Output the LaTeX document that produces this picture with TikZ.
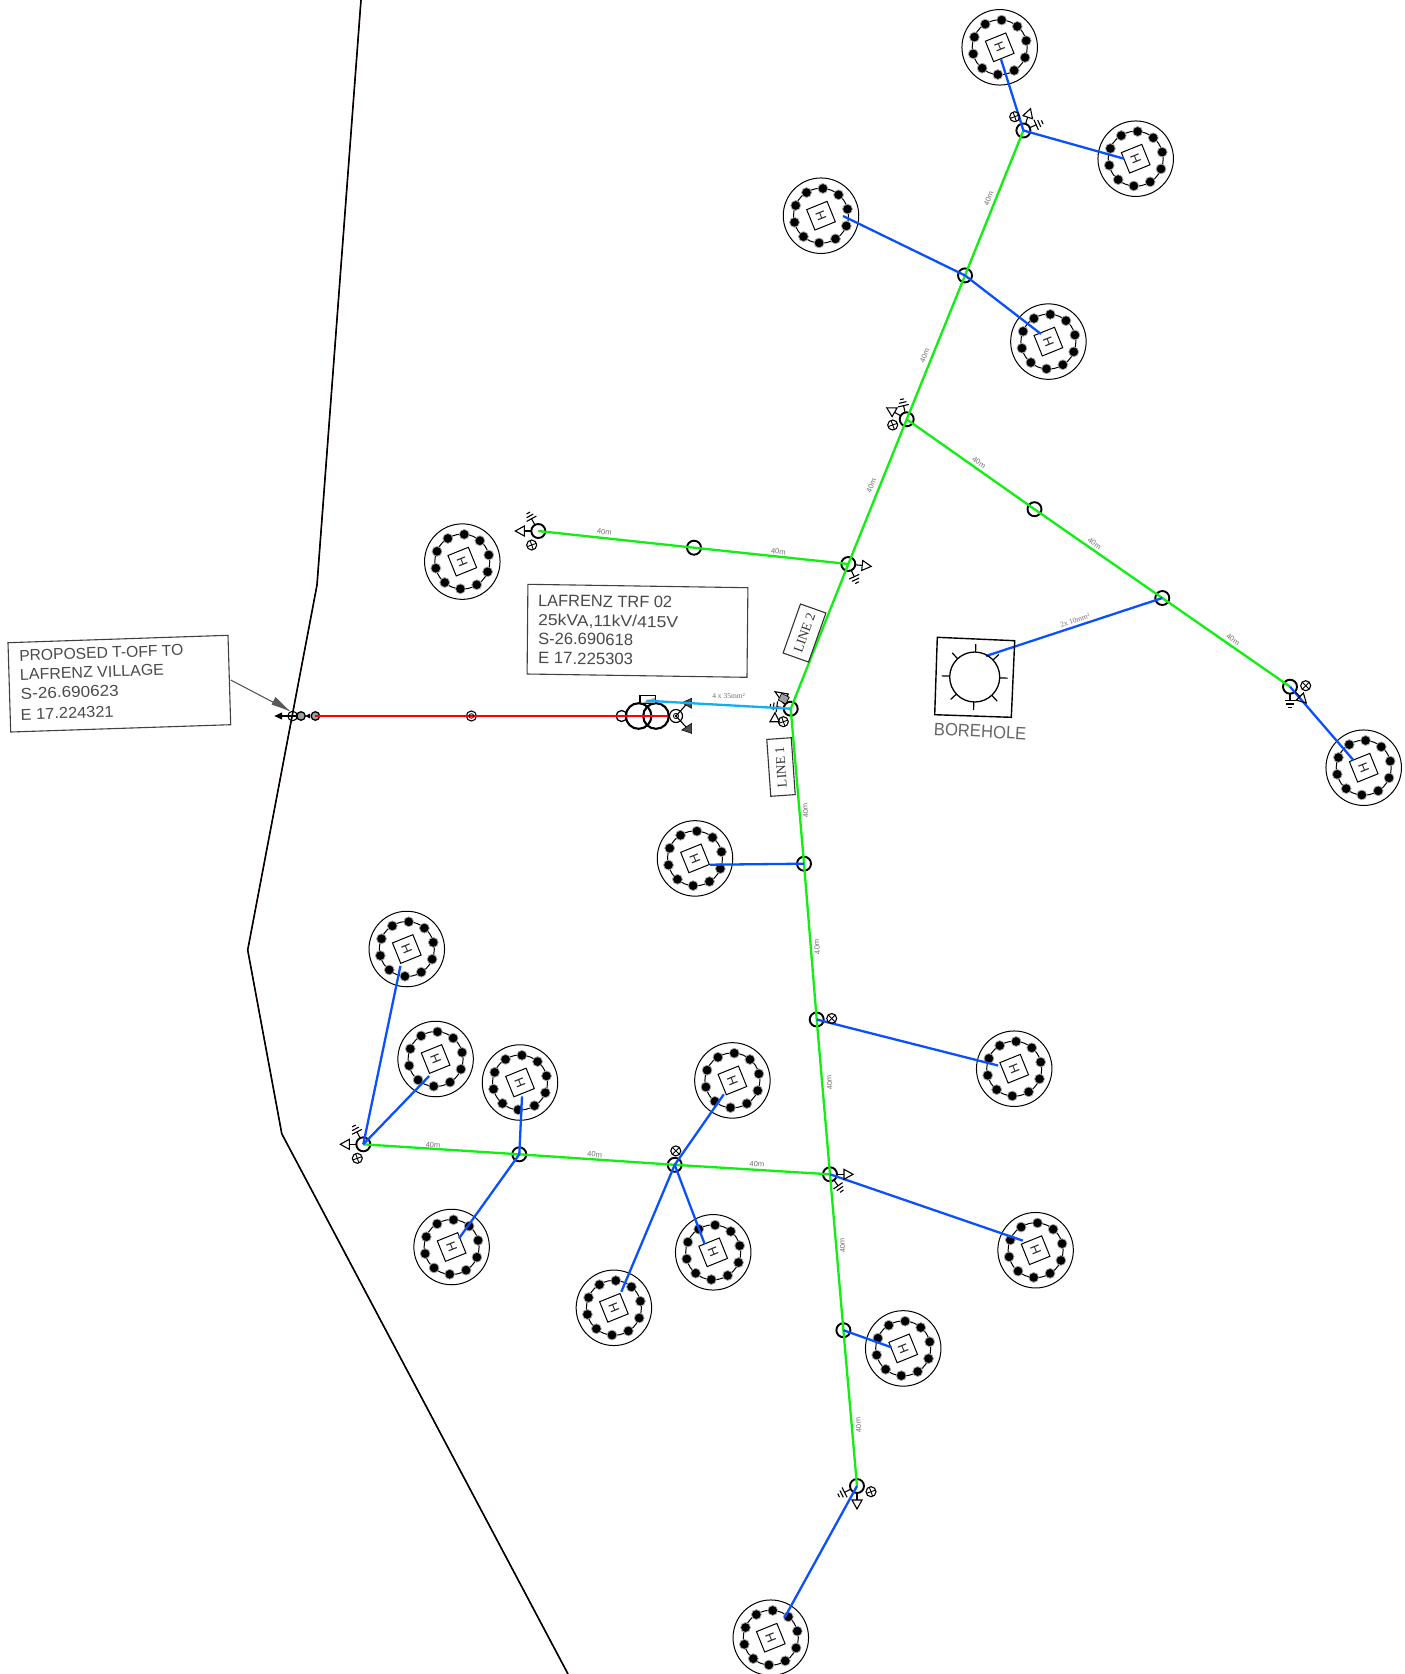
\documentclass[tikz,border=0pt]{standalone}
\usepackage{graphicx}
\usepackage{fontspec}
\setmainfont{Liberation Sans}
\newfontfamily\serifcad{Liberation Serif}
\usetikzlibrary{calc}
\definecolor{mvgreen}{HTML}{10F010}
\definecolor{lvblue}{HTML}{0A50FF}
\definecolor{svcyan}{HTML}{10B0F0}
\definecolor{cadtext}{HTML}{4A4A4A}
\definecolor{labgray}{HTML}{707070}
\tikzset{
 pole/.style={circle,draw=black,line width=1.9pt,minimum size=14pt,inner sep=0pt,outer sep=0pt},
 lampc/.style={circle,draw=black,line width=1.1pt,minimum size=10pt,inner sep=0pt,outer sep=0pt},
 hout/.style={circle,draw=black,line width=1pt,minimum size=75.5pt,inner sep=0pt,outer sep=0pt},
 hin/.style={circle,draw=black,line width=1pt,minimum size=55pt,inner sep=0pt,outer sep=0pt},
 hsq/.style={rectangle,draw=black,line width=1pt,minimum size=22pt,inner sep=0pt,outer sep=0pt},
 htx/.style={font=\fontsize{13}{13}\selectfont,inner sep=0pt,text=black!85},
 mv/.style={draw=mvgreen,line width=2.3pt},
 lv/.style={draw=lvblue,line width=2.3pt},
 hv/.style={draw=red,line width=2.3pt},
 sv/.style={draw=svcyan,line width=2.3pt},
 lab/.style={font=\fontsize{7.5}{7.5}\selectfont,text=labgray,inner sep=0pt},
 cad/.style={anchor=base west,inner sep=0pt,text=cadtext},
 boxline/.style={draw=black!75,line width=1.1pt},
 sym/.style={draw=black,line width=1.1pt},
}
\newcommand\house[3]{%
 \node[hout] (#1) at (#2,#3) {};
 \node[hin] (#1r) at (#2,#3) {};
 \begin{scope}[shift={(#1.center)}]
  \foreach \a in {14,50,...,338} \filldraw[fill=black,draw=gray!70,line width=.8pt] (\a:27.3pt) circle[radius=4.9pt];
 \end{scope}
 \node[hsq,rotate=22] (#1s) at (#2,#3) {};
 \node[htx,rotate=112] (#1h) at (#2,#3) {H};
}
\newcommand\stayS[2]{%
 \begin{scope}[shift={(#1.center)},rotate=#2]
  \draw[sym] (7pt,0pt) -- (14pt,0pt);
  \draw[sym] (14pt,-5pt) -- (14pt,5pt) -- (23pt,0pt) -- cycle;
 \end{scope}}
\newcommand\earthS[2]{%
 \begin{scope}[shift={(#1.center)},rotate=#2]
  \draw[sym] (7pt,0pt) -- (14pt,0pt);
  \draw[sym] (14pt,-5.5pt) -- (14pt,5.5pt);
  \draw[sym] (17.3pt,-3.8pt) -- (17.3pt,3.8pt);
  \draw[sym] (20.6pt,-2pt) -- (20.6pt,2pt);
 \end{scope}}
\newcommand\lampS[4]{%
 \node[lampc] (#1) at (#2,#3) {};
 \draw[black,line width=.9pt] (#1.#4) -- (#1.{#4+180});
 \draw[black,line width=.9pt] (#1.{#4+90}) -- (#1.{#4+270});}
\newcommand\forty[4]{\node[lab,rotate=#4] (#1) at (#2,#3) {40m};}
\begin{document}
\begin{tikzpicture}[x=1pt,y=-1pt]
\useasboundingbox[fill=white] (0,0) rectangle (1405,1674);
% boundary
\coordinate (b1) at (361,0);
\coordinate (b2) at (317,585);
\coordinate (b3) at (247.7,950);
\coordinate (b4) at (281.8,1133.8);
\coordinate (b5) at (568,1674);
\draw[red!80!black,line width=.9pt,xshift=.8pt] (b1) -- (b2) -- (b3) -- (b4) -- (b5);
\draw[black,line width=1.6pt] (b1) -- (b2) -- (b3) -- (b4) -- (b5);
% houses
\house{h1}{999.7}{47.3}
\house{h2}{1135.7}{158.7}
\house{h3}{821}{215.7}
\house{h4}{1048.4}{341.6}
\house{h5}{462.3}{561.6}
\house{h6}{1363.7}{767.7}
\house{h7}{695}{858.4}
\house{h8}{406.8}{949}
\house{h9}{435.6}{1059}
\house{h10}{520}{1082.5}
\house{h11}{732.4}{1080.4}
\house{h12}{1014.2}{1068.7}
\house{h13}{451.6}{1247}
\house{h14}{713.2}{1252.3}
\house{h15}{613.9}{1307.8}
\house{h16}{1035.6}{1250.2}
\house{h17}{903.2}{1348.4}
\house{h18}{770.8}{1637.7}
% poles
\node[pole] (a0) at (790.7,708.7) {};
\node[pole] (a1) at (848.3,564) {};
\node[pole] (a2) at (906.7,419.3) {};
\node[pole] (a3) at (965,275.4) {};
\node[pole] (a4) at (1023.4,130.5) {};
\node[pole] (n1) at (694,547.7) {};
\node[pole] (n2) at (538.3,531) {};
\node[pole] (e1) at (1034.5,509.2) {};
\node[pole] (e2) at (1162.3,598) {};
\node[pole] (e3) at (1290,686.7) {};
\node[pole] (s1) at (804,863.7) {};
\node[pole] (s2) at (816.7,1019.5) {};
\node[pole] (s3) at (830,1174.3) {};
\node[pole] (s4) at (843.4,1330.2) {};
\node[pole] (s5) at (857,1486) {};
\node[pole] (w1) at (674.7,1164.8) {};
\node[pole] (w2) at (519.3,1154.3) {};
\node[pole] (w3) at (363.3,1144.3) {};
% green lines
\draw[mv] (a0.center) -- (a1.center) -- (a2.center) -- (a3.center) -- (a4.center);
\draw[mv] (a1.center) -- (n1.center) -- (n2.center);
\draw[mv] (a2.center) -- (e1.center) -- (e2.center) -- (e3.center);
\draw[mv] (a0.center) -- (s1.center) -- (s2.center) -- (s3.center) -- (s4.center) -- (s5.center);
\draw[mv] (s3.center) -- (w1.center) -- (w2.center) -- (w3.center);
% service end points
\coordinate (q1) at (1001,59.3);
\coordinate (q2) at (1124,158.7);
\coordinate (q3) at (843,216);
\coordinate (q4) at (1041,334);
\coordinate (q6) at (1353.3,760);
\coordinate (q7) at (710,864.7);
\coordinate (q8) at (400.4,966);
\coordinate (q9) at (429.2,1076);
\coordinate (q10) at (522,1096.4);
\coordinate (q11) at (723.8,1094.3);
\coordinate (q12) at (998,1065.5);
\coordinate (q13) at (459,1238.4);
\coordinate (q14) at (704.6,1243.8);
\coordinate (q15) at (621.3,1291.8);
\coordinate (q16) at (1022.8,1240.6);
\coordinate (q17) at (891.4,1347.3);
\coordinate (q18) at (784.7,1617.4);
\coordinate (qb) at (986,656);
% blue lines
\draw[lv] (a4.center) -- (q1);
\draw[lv] (a4.center) -- (q2);
\draw[lv] (a3.center) -- (q3);
\draw[lv] (a3.center) -- (q4);
\draw[lv] (e3.center) -- (q6);
\draw[lv] (e2.center) -- (qb);
\draw[lv] (s1.center) -- (q7);
\draw[lv] (s2.center) -- (q12);
\draw[lv] (s3.center) -- (q16);
\draw[lv] (s4.center) -- (q17);
\draw[lv] (s5.center) -- (q18);
\draw[lv] (w3.center) -- (q8);
\draw[lv] (w3.center) -- (q9);
\draw[lv] (w2.center) -- (q10);
\draw[lv] (w2.center) -- (q13);
\draw[lv] (w1.center) -- (q11);
\draw[lv] (w1.center) -- (q14);
\draw[lv] (w1.center) -- (q15);
% pole furniture
\lampS{l1}{1014.7}{116.7}{20}
\stayS{a4}{72}\earthS{a4}{24}
\lampS{l2}{892.7}{425}{20}
\stayS{a2}{150}\earthS{a2}{103}
\stayS{a1}{-6}\earthS{a1}{-65}
\lampS{l3}{531.7}{545}{20}
\stayS{n2}{180}\earthS{n2}{119}
\lampS{l4}{1305.7}{685.7}{45}
\stayS{e3}{-45}\earthS{e3}{-90}
\stayS{s3}{0}\earthS{s3}{-55}
\lampS{l5}{871}{1491.7}{20}
\stayS{s5}{-90}\earthS{s5}{207}
\lampS{l6}{357.3}{1158.3}{20}
\stayS{w3}{180}\earthS{w3}{117}
\lampS{l7}{831.7}{1018.5}{45}
\lampS{l8}{675.8}{1150.9}{45}
% cluster at transformer LV pole
\lampS{l9}{783.3}{721.7}{20}
\earthS{a0}{172}
\draw[sym] (775,691.7) -- (788.3,694) -- (783.3,703.3) -- cycle;
\filldraw[fill=gray!75,draw=black,line width=.7pt] (781.7,693.3) -- (789.3,697.3) -- (785.7,704) -- (778.3,700) -- cycle;
\draw[sym] (770,721.7) -- (779.3,721.7) -- (775,712.7) -- cycle;
% HV line and transformer
\node[lampc,line width=1.3pt,minimum size=8.5pt,fill=gray!75] (g1) at (301,716) {};
\node[lampc,line width=1.3pt,minimum size=8.5pt,fill=gray!75] (g2) at (315.4,716) {};
\node[lampc,minimum size=9.5pt] (t0) at (292.6,716) {};
\coordinate (tip) at (274.3,716);
\node[lampc,minimum size=10pt] (mid) at (471.4,716) {};
\node[lampc,line width=1.3pt,minimum size=11pt] (t1) at (621.6,716) {};
\node[circle,draw=black,line width=2.1pt,minimum size=25.6pt,inner sep=0pt] (t2) at (638.6,716) {};
\node[circle,draw=black,line width=2.1pt,minimum size=25.6pt,inner sep=0pt] (t3) at (656,716) {};
\node[lampc,line width=1.2pt,minimum size=13pt] (t4) at (676,716) {};
\coordinate (hvend) at (668,716);
\draw[hv] (g2.center) -- (hvend);
\fill[black] (tip) -- (282,712.4) -- (282,719.6) -- cycle;
\draw[black,line width=1.1pt] (282,716) -- (t0.center) -- (g1);
\fill[black] (g1.east) -- (310,713.5) -- (310,718.5) -- cycle;
\draw[black,line width=.8pt] (mid) circle[radius=2.3pt];
\filldraw[fill=red,draw=none] (mid) circle[radius=1.3pt];
\draw[black,line width=.8pt] (t4) circle[radius=2.6pt];
\filldraw[fill=red,draw=black,line width=.4pt] (t4) circle[radius=1pt];
\coordinate (ne) at (691.7,698.3);
\coordinate (se) at (691.7,733.3);
\draw[black,line width=1.1pt] (t4.center) -- (ne);
\draw[black,line width=1.1pt] (t4.center) -- (se);
\filldraw[fill=black!70,draw=black,line width=.5pt] (ne) -- (681.7,702.7) -- (691.7,708.3) -- cycle;
\filldraw[fill=black!70,draw=black,line width=.5pt] (se) -- (681.7,730) -- (691.7,723.3) -- cycle;
\draw[black,line width=1.3pt] (640,703.3) -- (640,695.7) -- (655.5,695.7) -- (655.5,703.3) -- cycle;
\fill[gray!70] (642,703) -- (655,703) -- (655,697.5) -- cycle;
\coordinate (sv0) at (646.4,700.7);
\draw[sv] (sv0) -- (a0.center);
\node[font=\serifcad\fontsize{7.5}{7.5}\selectfont,text=labgray,inner sep=0pt] (svl) at (728.6,696) {4 x 35mm²};
% borehole
\coordinate (bh) at (974.7,677);
\draw[black,line width=1.4pt] (937.3,637.3) -- (1014.7,640.7) -- (1011.3,717.3) -- (934.7,714.7) -- cycle;
\node[circle,draw=black,line width=1.3pt,minimum size=50pt,inner sep=0pt] (bhc) at (bh) {};
\begin{scope}[shift={(bhc.center)},rotate=-2]
 \foreach \a in {0,45,...,315} \draw[black,line width=1.2pt] (\a:25pt) -- (\a:33pt);
\end{scope}
\node[cad,rotate=-3,text=black!60] (bt) at (933.5,735) {\resizebox{92.5pt}{12.5pt}{BOREHOLE}};
\node[lab,rotate=19] (bl) at (1075,620.5) {\serifcad 2x 10mm²};
% T-off box
\draw[boxline] (8,642.7) -- (228,635.3) -- (230.7,724.7) -- (10.7,732) -- cycle;
\node[cad,rotate=1.9] (tb1) at (19.3,661) {\resizebox{164pt}{11pt}{PROPOSED T-OFF TO}};
\node[cad,rotate=1.9] (tb2) at (20,680) {\resizebox{144pt}{11pt}{LAFRENZ VILLAGE}};
\node[cad,rotate=1.9] (tb3) at (20.7,699) {\resizebox{98pt}{11pt}{S-26.690623}};
\node[cad,rotate=1.9] (tb4) at (20.7,720) {\resizebox{93pt}{11pt}{E 17.224321}};
\coordinate (ld) at (230.7,680);
\coordinate (ldt) at (289.3,710.7);
\draw[black!70,line width=1pt] (ld) -- (ldt);
\fill[black!65] (ldt) -- (271.5,704.5) -- (275.5,697) -- cycle;
% TRF box
\draw[boxline] (527.9,584.3) -- (747.9,587.7) -- (747,677.3) -- (527.1,674) -- cycle;
\node[cad,rotate=-.9] (tr1) at (537.9,606) {\resizebox{134pt}{11.5pt}{LAFRENZ TRF 02}};
\node[cad,rotate=-.9] (tr2) at (537.9,625.5) {\resizebox{140pt}{11.5pt}{25kVA,11kV/415V}};
\node[cad,rotate=-.9] (tr3) at (537.9,644) {\resizebox{95pt}{11.5pt}{S-26.690618}};
\node[cad,rotate=-.9] (tr4) at (537.9,663.5) {\resizebox{95pt}{11.5pt}{E 17.225303}};
% line tags
\node[draw=black!80,line width=1.1pt,rotate=70.5,minimum width=52pt,minimum height=27pt,inner sep=0pt,font=\serifcad\fontsize{13.5}{13.5}\selectfont,text=black!80] (ln2) at (804.5,633) {LINE 2};
\node[draw=black!80,line width=1.1pt,rotate=94,minimum width=57pt,minimum height=24.5pt,inner sep=0pt,font=\serifcad\fontsize{13.5}{13.5}\selectfont,text=black!80] (ln1) at (781,767) {LINE 1};
% 40m labels
\forty{m1}{988.7}{198.6}{68}
\forty{m2}{924.7}{355.6}{68}
\forty{m3}{871.3}{485.8}{68}
\forty{m4}{604.3}{532}{-6}
\forty{m5}{778.3}{551.5}{-6}
\forty{m6}{979}{462.6}{-35}
\forty{m7}{1094.5}{543.5}{-35}
\forty{m8}{1233}{639.5}{-35}
\forty{m9}{805.5}{810.3}{95}
\forty{m10}{817}{947}{95}
\forty{m11}{829.4}{1082.5}{95}
\forty{m12}{842.4}{1245.9}{95}
\forty{m13}{858.4}{1425.2}{95}
\forty{m14}{433}{1145}{-4}
\forty{m15}{594.7}{1154.6}{-4}
\forty{m16}{756.9}{1164.3}{-4}
\end{tikzpicture}
\end{document}
